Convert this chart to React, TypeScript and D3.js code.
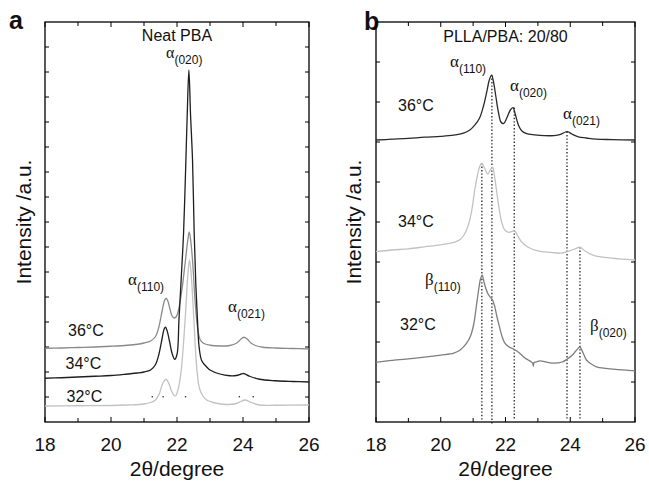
import React from "react";
import * as d3 from "d3";

// ---------- DATA ----------
// Panel a (Neat PBA): [2θ, intensity] ; intensity in arbitrary units (0–16)
const neat36: [number, number][] = [
  [18, 2.95], [18.5, 2.96], [19, 2.98], [19.5, 3.0], [20, 3.03], [20.5, 3.07], [20.8, 3.11], [21.0, 3.16],
  [21.2, 3.24], [21.35, 3.42], [21.45, 3.8], [21.55, 4.45], [21.62, 4.85], [21.67, 4.95], [21.72, 4.85],
  [21.78, 4.55], [21.85, 4.25], [21.92, 4.16], [21.98, 4.22], [22.05, 4.5], [22.15, 5.3], [22.25, 6.4],
  [22.32, 7.2], [22.37, 7.6], [22.42, 7.2], [22.48, 6.3], [22.55, 4.8], [22.62, 3.8], [22.7, 3.3],
  [22.8, 3.15], [23.0, 3.07], [23.3, 3.04], [23.6, 3.06], [23.8, 3.15], [23.95, 3.33], [24.03, 3.39],
  [24.12, 3.33], [24.25, 3.15], [24.4, 3.05], [24.6, 2.99], [25, 2.96], [25.5, 2.94], [26, 2.92],
];
const neat34: [number, number][] = [
  [18, 1.75], [18.5, 1.77], [19, 1.8], [19.5, 1.83], [20, 1.86], [20.5, 1.92], [20.8, 1.96], [21.0, 2.0],
  [21.2, 2.08], [21.35, 2.3], [21.45, 2.7], [21.55, 3.35], [21.61, 3.72], [21.65, 3.79], [21.7, 3.65],
  [21.77, 3.25], [21.85, 2.75], [21.93, 2.51], [22.0, 2.7], [22.06, 4.1], [22.13, 5.8], [22.2, 7.6],
  [22.27, 10.5], [22.31, 12.3], [22.36, 14.08], [22.41, 12.3], [22.47, 10.5], [22.52, 7.6], [22.57, 5.5],
  [22.62, 4.1], [22.67, 3.0], [22.75, 2.45], [22.9, 2.2], [23.0, 2.08], [23.3, 1.92], [23.6, 1.85],
  [23.8, 1.86], [23.95, 1.92], [24.02, 1.94], [24.2, 1.83], [24.5, 1.71], [25, 1.65], [25.5, 1.62], [26, 1.6],
];
const neat32: [number, number][] = [
  [18, 0.64], [19, 0.65], [20, 0.66], [20.5, 0.68], [21, 0.72], [21.2, 0.78], [21.35, 0.88], [21.47, 1.15],
  [21.57, 1.55], [21.67, 1.71], [21.75, 1.55], [21.83, 1.25], [21.9, 1.08], [21.96, 1.05], [22.05, 1.4],
  [22.13, 2.1], [22.2, 3.2], [22.27, 4.6], [22.33, 5.9], [22.38, 6.48], [22.43, 5.9], [22.49, 4.6],
  [22.55, 3.1], [22.61, 2.0], [22.68, 1.35], [22.78, 1.05], [22.9, 0.88], [23.1, 0.78], [23.5, 0.7],
  [23.8, 0.74], [24.05, 0.88], [24.25, 0.78], [24.5, 0.68], [25, 0.67], [26, 0.68],
];
const neatDotsX = [21.25, 21.58, 22.26, 23.89, 24.31];
const neatDotsY = 1.01;

// Panel b (PLLA/PBA 20/80): intensity 0–10
const blend36: [number, number][] = [
  [18, 7.05], [18.5, 7.07], [19, 7.09], [19.5, 7.12], [20, 7.14], [20.4, 7.17], [20.7, 7.22], [20.9, 7.3],
  [21.05, 7.42], [21.2, 7.6], [21.32, 7.9], [21.42, 8.25], [21.5, 8.55], [21.57, 8.67], [21.63, 8.5],
  [21.7, 8.15], [21.78, 7.75], [21.86, 7.5], [21.94, 7.46], [22.04, 7.6], [22.15, 7.8], [22.23, 7.86],
  [22.3, 7.7], [22.4, 7.42], [22.5, 7.28], [22.65, 7.21], [22.9, 7.18], [23.2, 7.16], [23.5, 7.16],
  [23.7, 7.19], [23.85, 7.25], [23.92, 7.26], [24.05, 7.2], [24.25, 7.13], [24.5, 7.1], [24.8, 7.07],
  [25.3, 7.06], [26, 7.05],
];
const blend34: [number, number][] = [
  [18, 4.26], [18.5, 4.3], [19, 4.33], [19.5, 4.38], [20, 4.43], [20.4, 4.49], [20.6, 4.56], [20.75, 4.72],
  [20.88, 5.0], [20.97, 5.35], [21.05, 5.8], [21.13, 6.15], [21.21, 6.4], [21.27, 6.47], [21.35, 6.35],
  [21.45, 6.2], [21.53, 6.3], [21.6, 6.37], [21.66, 6.15], [21.72, 5.8], [21.8, 5.35], [21.88, 5.0],
  [21.98, 4.8], [22.1, 4.74], [22.22, 4.77], [22.28, 4.78], [22.36, 4.68], [22.5, 4.5], [22.7, 4.37],
  [23.0, 4.28], [23.4, 4.24], [23.7, 4.22], [23.95, 4.27], [24.15, 4.33], [24.3, 4.37], [24.45, 4.28],
  [24.7, 4.17], [25.0, 4.12], [25.5, 4.08], [26, 4.05],
];
const blend32: [number, number][] = [
  [18, 1.49], [18.5, 1.54], [19, 1.58], [19.5, 1.62], [20, 1.67], [20.4, 1.72], [20.6, 1.8], [20.8, 1.97],
  [20.92, 2.15], [21.02, 2.45], [21.1, 2.9], [21.17, 3.3], [21.23, 3.58], [21.28, 3.67], [21.35, 3.45],
  [21.45, 3.22], [21.52, 3.13], [21.6, 3.05], [21.67, 2.88], [21.73, 2.65], [21.8, 2.42], [21.9, 2.12],
  [21.98, 1.97], [22.1, 1.88], [22.26, 1.82], [22.44, 1.72], [22.6, 1.6], [22.7, 1.55], [22.8, 1.5],
  [22.84, 1.47], [22.86, 1.4], [22.88, 1.48], [22.95, 1.5], [23.06, 1.53], [23.3, 1.49], [23.5, 1.47],
  [23.75, 1.5], [23.9, 1.57], [24.05, 1.66], [24.18, 1.78], [24.3, 1.87], [24.4, 1.72], [24.5, 1.55],
  [24.65, 1.45], [24.81, 1.38], [25.1, 1.34], [25.5, 1.31], [26, 1.28],
];
const dropX = [21.27, 21.58, 22.27, 23.9, 24.3];
const dropTop = [6.47, 8.67, 7.86, 7.26, 4.37];
const dropBottom = [0.05, -0.09, 0.05, 0.05, 0.05];

const xTickValues = [18, 19, 20, 21, 22, 23, 24, 25, 26];
const xTickLabels = ["18", "20", "22", "24", "26"];

// ---------- LAYOUT ----------
const SANS = "'Liberation Sans', Arial, Helvetica, sans-serif";
const SERIF = "'Liberation Serif', 'Times New Roman', serif";
const TOP = 22;
const BOTTOM = 422;

type Panel = {
  x: d3.ScaleLinear<number, number>;
  y: d3.ScaleLinear<number, number>;
  yMax: number;
};

function Frame({ p }: { p: Panel }) {
  const [x0, x1] = p.x.range();
  const yTicks = d3.range(1, p.yMax);
  return (
    <g>
      <rect x={x0} y={TOP} width={x1 - x0} height={BOTTOM - TOP} fill="none" stroke="#000" strokeWidth={1.3} />
      {xTickValues.map((t) => {
        const len = t % 2 === 0 ? 5 : 4;
        return (
          <g key={"xt" + t}>
            <line x1={p.x(t)} x2={p.x(t)} y1={BOTTOM} y2={BOTTOM - len} stroke="#000" strokeWidth={1} />
            <line x1={p.x(t)} x2={p.x(t)} y1={TOP} y2={TOP + len} stroke="#000" strokeWidth={1} />
          </g>
        );
      })}
      {yTicks.map((t) => (
        <g key={"yt" + t}>
          <line x1={x0} x2={x0 + 4} y1={p.y(t)} y2={p.y(t)} stroke="#000" strokeWidth={1} />
          <line x1={x1} x2={x1 - 4} y1={p.y(t)} y2={p.y(t)} stroke="#000" strokeWidth={1} />
        </g>
      ))}
      {xTickLabels.map((l) => (
        <text key={"xl" + l} x={p.x(+l)} y={451} textAnchor="middle" fontFamily={SANS} fontSize={19} fill="#111">
          {l}
        </text>
      ))}
      <text x={(x0 + x1) / 2} y={476} textAnchor="middle" fontFamily={SANS} fontSize={21} fill="#111">
        2θ/degree
      </text>
    </g>
  );
}

function Peak({ x, y, g, sub, size = 17 }: { x: number; y: number; g: string; sub: string; size?: number }) {
  return (
    <text x={x} y={y} fill="#111">
      <tspan fontFamily={SERIF} fontSize={size}>{g}</tspan>
      <tspan fontFamily={SANS} fontSize={12} dy={6}>{sub}</tspan>
    </text>
  );
}

export default function App() {
  const pa: Panel = {
    x: d3.scaleLinear().domain([18, 26]).range([45, 309]),
    y: d3.scaleLinear().domain([0, 16]).range([BOTTOM, TOP]),
    yMax: 16,
  };
  const pb: Panel = {
    x: d3.scaleLinear().domain([18, 26]).range([376, 635]),
    y: d3.scaleLinear().domain([0, 10]).range([BOTTOM, TOP]),
    yMax: 10,
  };
  const lineFor = (p: Panel) =>
    d3
      .line<[number, number]>()
      .x((d) => p.x(d[0]))
      .y((d) => p.y(d[1]))
      .curve(d3.curveCatmullRom.alpha(0.5));
  const la = lineFor(pa);
  const lb = lineFor(pb);

  return (
    <svg width={649} height={483} style={{ position: "absolute", left: 0, top: 0, background: "#fff" }}>
      <rect width={649} height={483} fill="#fff" />
      {/* Panel a */}
      <text x={9} y={29} fontFamily={SANS} fontWeight="bold" fontSize={25} fill="#111">a</text>
      <Frame p={pa} />
      <path d={la(neat36) || ""} fill="none" stroke="#8a8a8a" strokeWidth={1.3} />
      <path d={la(neat34) || ""} fill="none" stroke="#1e1e1e" strokeWidth={1.3} />
      <path d={la(neat32) || ""} fill="none" stroke="#c2c2c2" strokeWidth={1.3} />
      {neatDotsX.map((d) => (
        <circle key={"nd" + d} cx={pa.x(d)} cy={pa.y(neatDotsY)} r={0.8} fill="#222" />
      ))}
      <text x={177} y={40.5} textAnchor="middle" fontFamily={SANS} fontSize={16} fill="#111">Neat PBA</text>
      <Peak x={166} y={58} g="α" sub="(020)" size={16} />
      <Peak x={128} y={285} g="α" sub="(110)" />
      <Peak x={228} y={312} g="α" sub="(021)" />
      <text x={68} y={336} fontFamily={SANS} fontSize={16} fill="#111">36°C</text>
      <text x={65.5} y={368.5} fontFamily={SANS} fontSize={16} fill="#111">34°C</text>
      <text x={66.5} y={402} fontFamily={SANS} fontSize={16} fill="#111">32°C</text>
      <text
        transform="translate(31,222) rotate(-90)"
        textAnchor="middle"
        fontFamily={SANS}
        fontSize={21}
        fill="#111"
      >
        Intensity /a.u.
      </text>

      {/* Panel b */}
      <text x={364} y={30} fontFamily={SANS} fontWeight="bold" fontSize={25} fill="#111">b</text>
      <Frame p={pb} />
      {dropX.map((d, i) => (
        <line
          key={"dr" + d}
          x1={pb.x(d)}
          x2={pb.x(d)}
          y1={pb.y(dropTop[i])}
          y2={pb.y(dropBottom[i])}
          stroke="#111"
          strokeWidth={1.2}
          strokeDasharray="1.4,2"
        />
      ))}
      <path d={lb(blend36) || ""} fill="none" stroke="#2a2a2a" strokeWidth={1.3} />
      <path d={lb(blend34) || ""} fill="none" stroke="#c2c2c2" strokeWidth={1.3} />
      <path d={lb(blend32) || ""} fill="none" stroke="#7e7e7e" strokeWidth={1.3} />
      <text x={505.5} y={42} textAnchor="middle" fontFamily={SANS} fontSize={16} fill="#111">PLLA/PBA: 20/80</text>
      <Peak x={450} y={67} g="α" sub="(110)" />
      <Peak x={510} y={91} g="α" sub="(020)" />
      <Peak x={563} y={119} g="α" sub="(021)" />
      <Peak x={425} y={285} g="β" sub="(110)" />
      <Peak x={590} y={331} g="β" sub="(020)" />
      <text x={398} y={111} fontFamily={SANS} fontSize={16} fill="#111">36°C</text>
      <text x={398} y={226.5} fontFamily={SANS} fontSize={16} fill="#111">34°C</text>
      <text x={400} y={330} fontFamily={SANS} fontSize={16} fill="#111">32°C</text>
      <text
        transform="translate(361,222) rotate(-90)"
        textAnchor="middle"
        fontFamily={SANS}
        fontSize={21}
        fill="#111"
      >
        Intensity /a.u.
      </text>
    </svg>
  );
}
